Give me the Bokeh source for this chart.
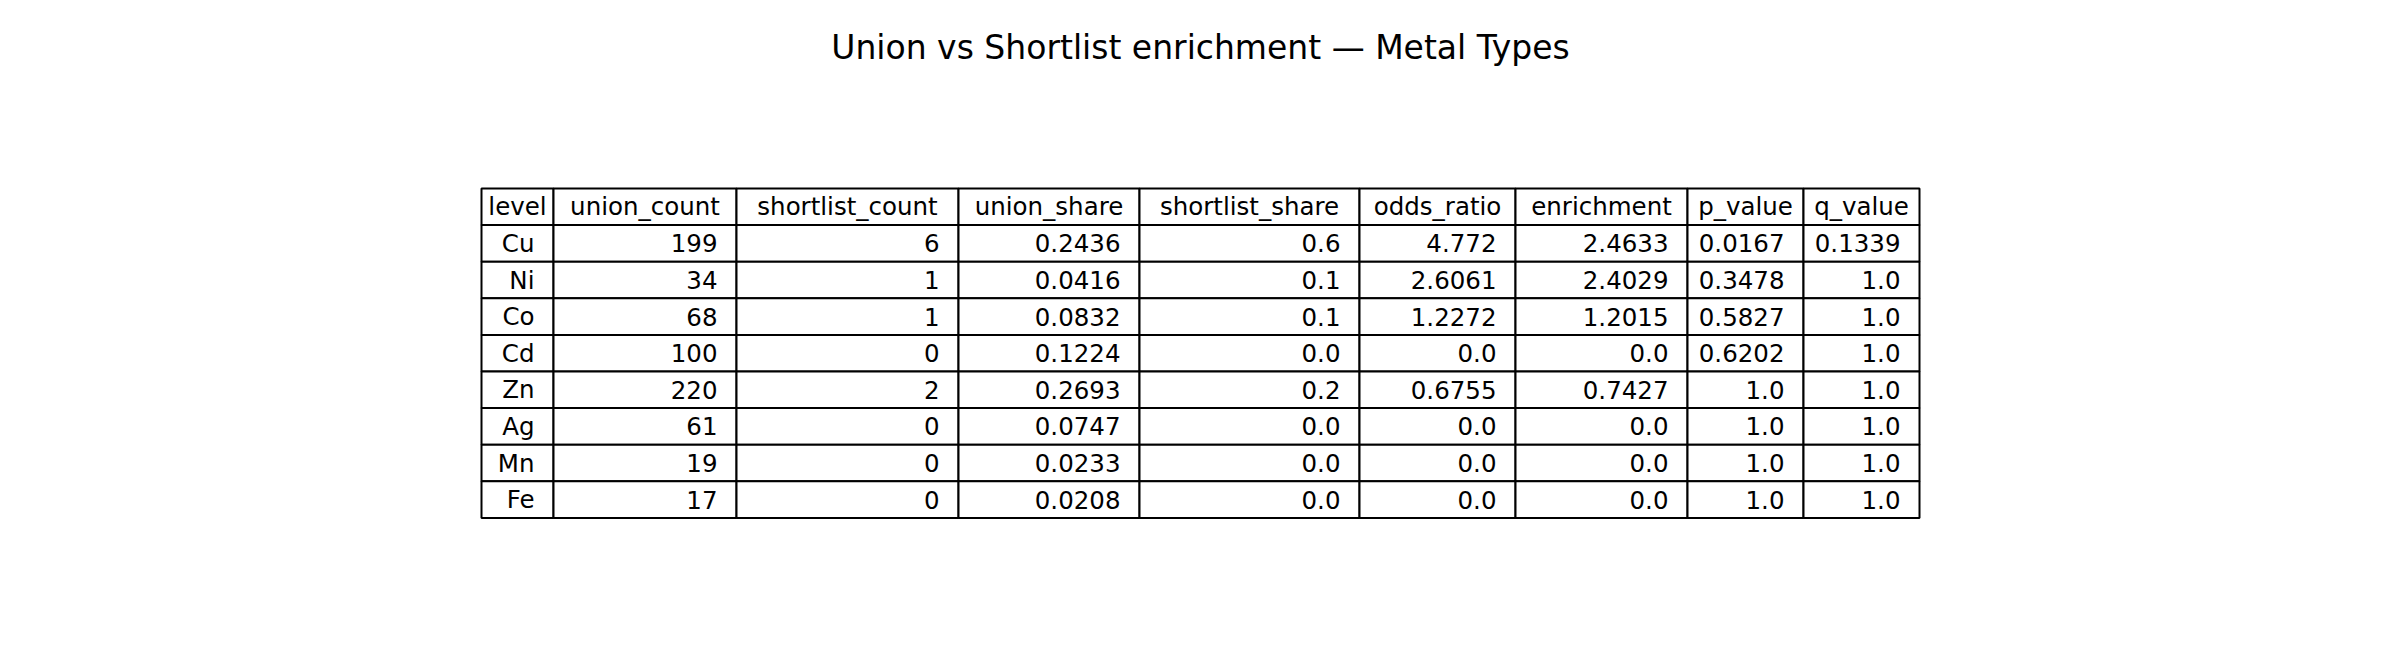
from bokeh.plotting import figure
from bokeh.models import Range1d
from bokeh.core.properties import value
from bokeh.embed import file_html
from bokeh.resources import INLINE

title = "Union vs Shortlist enrichment — Metal Types"
columns = ["level", "union_count", "shortlist_count", "union_share", "shortlist_share",
           "odds_ratio", "enrichment", "p_value", "q_value"]
level = ["Cu", "Ni", "Co", "Cd", "Zn", "Ag", "Mn", "Fe"]
union_count = ["199", "34", "68", "100", "220", "61", "19", "17"]
shortlist_count = ["6", "1", "1", "0", "2", "0", "0", "0"]
union_share = ["0.2436", "0.0416", "0.0832", "0.1224", "0.2693", "0.0747", "0.0233", "0.0208"]
shortlist_share = ["0.6", "0.1", "0.1", "0.0", "0.2", "0.0", "0.0", "0.0"]
odds_ratio = ["4.772", "2.6061", "1.2272", "0.0", "0.6755", "0.0", "0.0", "0.0"]
enrichment = ["2.4633", "2.4029", "1.2015", "0.0", "0.7427", "0.0", "0.0", "0.0"]
p_value = ["0.0167", "0.3478", "0.5827", "0.6202", "1.0", "1.0", "1.0", "1.0"]
q_value = ["0.1339", "1.0", "1.0", "1.0", "1.0", "1.0", "1.0", "1.0"]
table = [level, union_count, shortlist_count, union_share, shortlist_share,
         odds_ratio, enrichment, p_value, q_value]

W, H = 2384, 644
edges = [481, 553, 736, 958, 1139, 1359, 1515, 1687, 1803, 1919]
top, row_h = 188, 36.6
font = value("DejaVu Sans")

p = figure(width=W, height=H, output_backend="svg", toolbar_location=None,
           x_range=Range1d(0, W), y_range=Range1d(H, 0), min_border=0)
p.axis.visible = False
p.grid.visible = False
p.outline_line_color = None

n_rows = len(level) + 1
l, r, t, b = [], [], [], []
for i in range(n_rows):
    for j in range(len(columns)):
        l.append(edges[j]); r.append(edges[j + 1])
        t.append(top + i * row_h); b.append(top + (i + 1) * row_h)
p.quad(left=l, right=r, top=t, bottom=b, fill_color="white",
       line_color="black", line_width=2)

# header
hx = [(edges[j] + edges[j + 1]) / 2 for j in range(len(columns))]
p.text(x=hx, y=[top + row_h / 2] * len(columns), text=columns, text_font=font,
       text_font_size="24.5px", text_align="center", text_baseline="middle")

# body
bx, by, bt = [], [], []
for j, col in enumerate(table):
    for i, v in enumerate(col):
        bx.append(edges[j + 1] - 19)
        by.append(top + (i + 1.5) * row_h)
        bt.append(v)
p.text(x=bx, y=by, text=bt, text_font=font, text_font_size="24.5px",
       text_align="right", text_baseline="middle")

p.text(x=[1200], y=[47], text=[title], text_font=font, text_font_size="33px",
       text_align="center", text_baseline="middle")

open("out.html", "w").write(file_html(p, INLINE))
